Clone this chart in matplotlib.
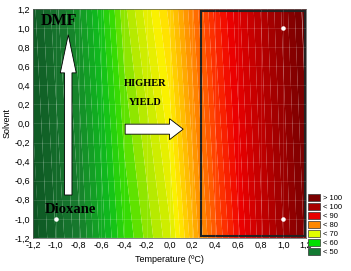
import numpy as np
import matplotlib.pyplot as plt
from matplotlib.colors import LinearSegmentedColormap, Normalize
from matplotlib.patches import FancyArrow, Rectangle, Patch

plt.rcParams['font.family'] = ['Liberation Sans', 'DejaVu Sans']
plt.rcParams['font.size'] = 6.5

temperature = [-1.2, -0.8, -0.4, 0.0, 0.4, 0.8, 1.2]
solvent = [-1.2, 1.2]
yield_dioxane = [42, 50, 61, 68, 83, 95, 105]
yield_dmf = [44, 53, 65, 73.5, 87, 97, 107]

exp_t = [1.0, 1.0, -1.0]
exp_s = [1.0, -1.0, -1.0]

legend_labels = ['> 100', '< 100', '< 90', '< 80', '< 70', '< 60', '< 50']
legend_colors = ['#7a0000', '#a80000', '#e80000', '#ff8800', '#e0ff00', '#00dd00', '#127a32']

stops = [(40, '#0b4a20'), (50, '#177a2e'), (58, '#0fbf1c'), (62, '#3ade00'),
         (66, '#b4ea00'), (71, '#fff200'), (78, '#ff9a00'), (85, '#ff3a00'),
         (90, '#ee0000'), (100, '#a00000'), (108, '#6a0000')]
lo, hi = stops[0][0], stops[-1][0]
cmap = LinearSegmentedColormap.from_list(
    'yld', [((v - lo) / (hi - lo), c) for v, c in stops])

fig = plt.figure(figsize=(3.51, 2.71), dpi=100)
ax = fig.add_axes([0.094, 0.122, 0.778, 0.845])

T, S = np.meshgrid(temperature, solvent)
Z = np.array([yield_dioxane, yield_dmf])
ax.contourf(T, S, Z, levels=np.arange(40, 110, 1.5), cmap=cmap,
            norm=Normalize(lo, hi), antialiased=True)

ticks = np.round(np.arange(-1.2, 1.21, 0.2), 1)
for v in ticks:
    ax.axvline(v, color='white', lw=0.4, alpha=0.22)
    ax.axhline(v, color='white', lw=0.4, alpha=0.22)

ax.set_xlim(-1.2, 1.2)
ax.set_ylim(-1.2, 1.2)
ax.set_xticks(ticks)
ax.set_yticks(ticks)


def fmt(v):
    if abs(v) < 1e-9:
        v = 0.0
    return f'{v:.1f}'.replace('.', ',')


ax.set_xticklabels([fmt(v) for v in ticks])
ax.set_yticklabels([fmt(v) for v in ticks])
ax.tick_params(length=0, pad=2)
for sp in ax.spines.values():
    sp.set_linewidth(0.5)
    sp.set_color('#555555')

ax.set_xlabel('Temperature (ºC)', labelpad=4)
ax.set_ylabel('Solvent', labelpad=2)

# region of highest yield
ax.add_patch(Rectangle((0.277, -1.18), 0.913, 2.36, fill=False,
                       edgecolor='#222222', lw=1.5))

ax.scatter(exp_t, exp_s, s=5, color='white', zorder=5)

ax.add_patch(FancyArrow(-0.89, -0.75, 0, 1.68, width=0.065, head_width=0.14,
                        head_length=0.4, length_includes_head=True,
                        facecolor='white', edgecolor='black', lw=0.6, zorder=4))
ax.add_patch(FancyArrow(-0.39, -0.06, 0.51, 0, width=0.105, head_width=0.22,
                        head_length=0.12, length_includes_head=True,
                        facecolor='white', edgecolor='black', lw=0.6, zorder=4))

serif = ['Liberation Serif', 'DejaVu Serif']
ax.text(-0.97, 1.07, 'DMF', family=serif, weight='bold', fontsize=11.5,
        ha='center', va='center')
ax.text(-0.87, -0.9, 'Dioxane', family=serif, weight='bold', fontsize=10.5,
        ha='center', va='center')
ax.text(-0.215, 0.42, 'HIGHER', family=serif, weight='bold', fontsize=7.5,
        ha='center', va='center')
ax.text(-0.215, 0.22, 'YIELD', family=serif, weight='bold', fontsize=7.5,
        ha='center', va='center')

handles = [Patch(facecolor=c, edgecolor='#333333', lw=0.5) for c in legend_colors]
fig.legend(handles, legend_labels, loc='lower left',
           bbox_to_anchor=(0.878, 0.055), frameon=False, fontsize=5.5,
           handlelength=1.6, handleheight=1.0, handletextpad=0.3,
           labelspacing=0.12, borderaxespad=0, borderpad=0)

fig.savefig('out.png', dpi=100)
